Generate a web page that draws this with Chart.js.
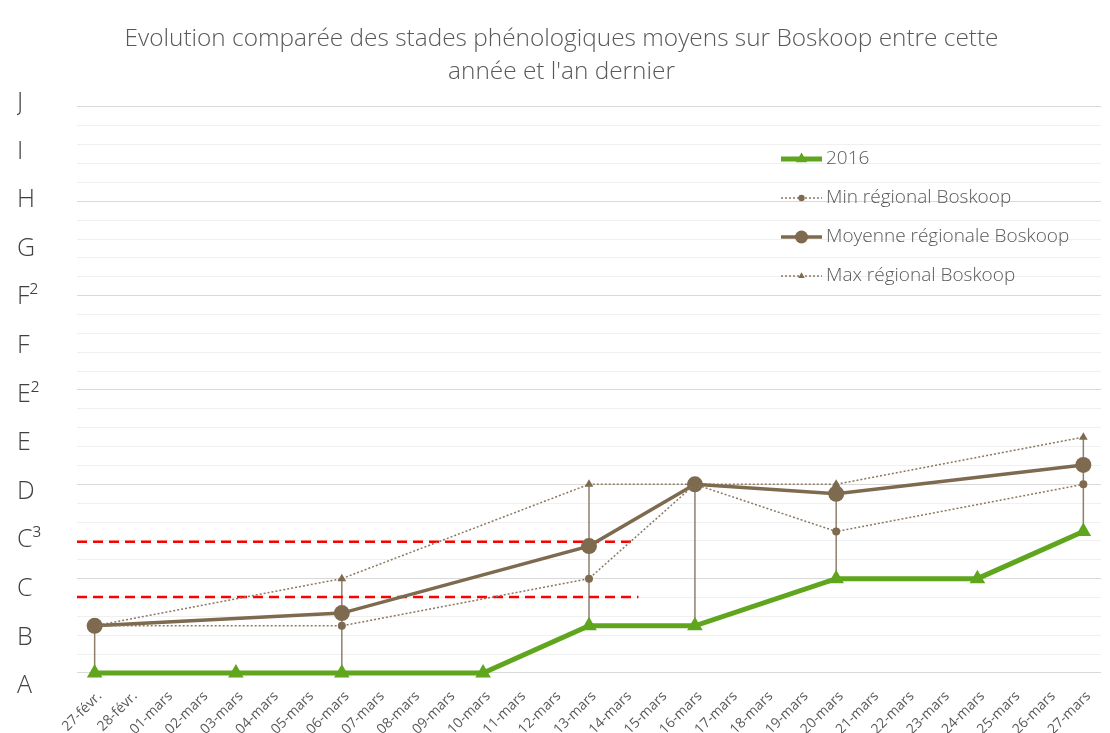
<!DOCTYPE html>
<html lang="fr">
<head>
<meta charset="utf-8">
<title>Stades phénologiques Boskoop</title>
<script src="https://cdn.jsdelivr.net/npm/chart.js@4/dist/chart.umd.min.js"></script>
<style>
  html, body { margin: 0; padding: 0; background: #fff; }
</style>
</head>
<body>
<canvas id="chart" width="1110" height="733"></canvas>
<script>
const titre = [
    'Evolution comparée des stades phénologiques moyens sur Boskoop entre cette',
    "année et l'an dernier"
];

const dates = [
    '27-févr.', '28-févr.', '01-mars', '02-mars', '03-mars', '04-mars', '05-mars',
    '06-mars', '07-mars', '08-mars', '09-mars', '10-mars', '11-mars', '12-mars',
    '13-mars', '14-mars', '15-mars', '16-mars', '17-mars', '18-mars', '19-mars',
    '20-mars', '21-mars', '22-mars', '23-mars', '24-mars', '25-mars', '26-mars',
    '27-mars'
];

// stades : A = 0, B = 1, ... J = 12
const stades = ['A', 'B', 'C', 'C³', 'D', 'E', 'E²', 'F', 'F²', 'G', 'H', 'I', 'J'];

// null = pas d'observation ce jour-là
const annee2016 = [0, null, null, null, 0, null, null, 0, null, null, null, 0, null, null,
    1, null, null, 1, null, null, null, 2, null, null, null, 2, null, null, 3];
const minRegional = [1, null, null, null, null, null, null, 1, null, null, null, null, null, null,
    2, null, null, 4, null, null, null, 3, null, null, null, null, null, null, 4];
const moyenneRegionale = [1, null, null, null, null, null, null, 1.27, null, null, null, null, null, null,
    2.69, null, null, 4, null, null, null, 3.8, null, null, null, null, null, null, 4.41];
const maxRegional = [1, null, null, null, null, null, null, 2, null, null, null, null, null, null,
    4, null, null, 4, null, null, null, 4, null, null, null, null, null, null, 5];

// seuils en pointillés rouges (niveau, jour de fin)
const seuilHaut = 2.78;
const seuilHautFin = 15.2;
const seuilBas = 1.61;
const seuilBasFin = 15.4;

const vert = '#5fa61e';
const brun = '#7e6a4f';
const brunClair = '#8c7862';

function toPoints(arr) {
    return arr.map((v, i) => v === null ? null : { x: i, y: v }).filter(p => p !== null);
}

// lignes verticales entre le plus haut et le plus bas de chaque jour
const lignesHautBas = {
    id: 'lignesHautBas',
    beforeDatasetsDraw(chart) {
        const ctx = chart.ctx;
        const xs = chart.scales.x;
        const ys = chart.scales.y;
        ctx.save();
        ctx.strokeStyle = '#8e7f6d';
        ctx.lineWidth = 1.5;
        dates.forEach((d, i) => {
            const vals = [annee2016[i], minRegional[i], moyenneRegionale[i], maxRegional[i]]
                .filter(v => v !== null);
            if (vals.length < 2) return;
            const haut = Math.max(...vals);
            const bas = Math.min(...vals);
            const px = xs.getPixelForValue(i);
            ctx.beginPath();
            ctx.moveTo(px, ys.getPixelForValue(haut));
            ctx.lineTo(px, ys.getPixelForValue(bas));
            ctx.stroke();
        });
        ctx.restore();
    }
};

// légende dans la zone du graphique, trait + marqueur
const legendeInterne = {
    id: 'legendeInterne',
    afterDraw(chart) {
        const ctx = chart.ctx;
        const x0 = 781, y0 = 159, pas = 39, long = 41;
        const marques = [6.5, 3.2, 6.5, 3.8];
        ctx.save();
        for (let i = 0; i < 4; i++) {
            const ds = chart.data.datasets[i];
            const y = y0 + i * pas;
            ctx.strokeStyle = ds.borderColor;
            ctx.lineWidth = ds.borderWidth;
            ctx.setLineDash(ds.borderDash || []);
            ctx.beginPath();
            ctx.moveTo(x0, y);
            ctx.lineTo(x0 + long, y);
            ctx.stroke();
            ctx.setLineDash([]);
            ctx.fillStyle = ds.pointBackgroundColor;
            ctx.strokeStyle = ds.pointBackgroundColor;
            Chart.helpers.drawPoint(ctx, {
                pointStyle: ds.pointStyle, radius: marques[i], rotation: 0, borderWidth: 0
            }, x0 + long / 2, y);
            ctx.fillStyle = '#595959';
            ctx.font = '300 19px "Open Sans"';
            ctx.textBaseline = 'middle';
            ctx.fillText(ds.label, x0 + long + 4, y);
        }
        ctx.restore();
    }
};

new Chart(document.getElementById('chart'), {
    type: 'line',
    data: {
        datasets: [
            {
                label: '2016',
                data: toPoints(annee2016),
                borderColor: vert,
                backgroundColor: vert,
                borderWidth: 5,
                pointStyle: 'triangle',
                pointRadius: 9,
                pointBackgroundColor: vert,
                pointBorderWidth: 0,
                tension: 0
            },
            {
                label: 'Min régional Boskoop',
                data: toPoints(minRegional),
                borderColor: brunClair,
                borderWidth: 1.5,
                borderDash: [2, 2],
                pointStyle: 'circle',
                pointRadius: 4,
                pointBackgroundColor: brun,
                pointBorderWidth: 0,
                tension: 0
            },
            {
                label: 'Moyenne régionale Boskoop',
                data: toPoints(moyenneRegionale),
                borderColor: brun,
                borderWidth: 3.5,
                pointStyle: 'circle',
                pointRadius: 8,
                pointBackgroundColor: brun,
                pointBorderWidth: 0,
                tension: 0
            },
            {
                label: 'Max régional Boskoop',
                data: toPoints(maxRegional),
                borderColor: brunClair,
                borderWidth: 1.5,
                borderDash: [2, 2],
                pointStyle: 'triangle',
                pointRadius: 5,
                pointBackgroundColor: brun,
                pointBorderWidth: 0,
                tension: 0
            },
            {
                label: 'seuil haut',
                data: [{ x: -0.5, y: seuilHaut }, { x: seuilHautFin, y: seuilHaut }],
                borderColor: '#ff0000',
                borderWidth: 2.5,
                borderDash: [10, 6],
                pointRadius: 0
            },
            {
                label: 'seuil bas',
                data: [{ x: -0.5, y: seuilBas }, { x: seuilBasFin, y: seuilBas }],
                borderColor: '#ff0000',
                borderWidth: 2.5,
                borderDash: [10, 6],
                pointRadius: 0
            }
        ]
    },
    options: {
        responsive: false,
        animation: false,
        devicePixelRatio: 1,
        layout: { padding: { left: 17, right: 4, top: 0, bottom: 0 } },
        plugins: {
            legend: { display: false },
            tooltip: { enabled: false },
            title: {
                display: true,
                text: titre,
                color: '#595959',
                font: { family: 'Open Sans', size: 24.4, weight: 300, lineHeight: 1.33 },
                padding: { top: 23, bottom: 15 }
            }
        },
        scales: {
            x: {
                type: 'linear',
                min: -0.5,
                max: 28.5,
                afterBuildTicks: s => { s.ticks = dates.map((d, i) => ({ value: i })); },
                afterFit: s => { s.height = 47; },
                ticks: {
                    autoSkip: false,
                    minRotation: 45,
                    maxRotation: 45,
                    padding: -6,
                    labelOffset: 5,
                    color: '#595959',
                    font: { family: 'Open Sans', size: 14 },
                    callback: (v, i) => dates[i]
                },
                grid: { display: false },
                border: { display: false }
            },
            y: {
                type: 'linear',
                position: 'left',
                min: -0.2756,
                max: 12.085,
                afterBuildTicks: s => {
                    const t = [];
                    for (let k = 0; k <= 30; k++) t.push({ value: Math.round(k * 4) / 10 });
                    s.ticks = t;
                },
                afterFit: s => { s.width = 0; },
                ticks: { display: false },
                grid: {
                    drawTicks: false,
                    lineWidth: 1,
                    color: c => (Math.abs(c.tick.value / 2 - Math.round(c.tick.value / 2)) < 1e-6) ? '#d9d9d9' : '#f0f0f0'
                },
                border: { display: false }
            },
            yLab: {
                type: 'linear',
                position: 'left',
                min: 0,
                max: 12,
                afterBuildTicks: s => { s.ticks = stades.map((st, i) => ({ value: i })); },
                afterFit: s => { s.width = 60; },
                ticks: {
                    autoSkip: false,
                    crossAlign: 'far',
                    padding: 0,
                    color: '#404040',
                    font: { family: 'Open Sans', size: 25, weight: 300 },
                    callback: (v, i) => stades[i]
                },
                grid: { display: false },
                border: { display: false }
            }
        }
    },
    plugins: [lignesHautBas, legendeInterne]
});
</script>
</body>
</html>
